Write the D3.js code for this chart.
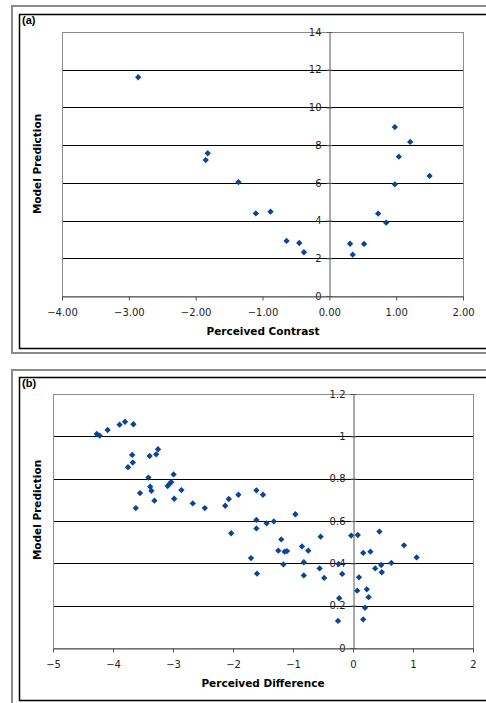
<!DOCTYPE html>
<html>
<head>
<meta charset="utf-8">
<script src="https://cdn.jsdelivr.net/npm/d3@7"></script>
<style>
  body { margin: 0; background: #fff; }
  svg { display: block; }
</style>
</head>
<body>
<svg id="chart" width="486" height="703"></svg>
<script>
// (a) perceived contrast vs model prediction
const contrastX = [-2.86, -1.85, -1.82, -1.36, -1.10, -0.88, -0.64, -0.45, -0.38,
  0.31, 0.35, 0.52, 0.73, 0.85, 0.98, 0.98, 1.04, 1.21, 1.50];
const contrastY = [11.6, 7.21, 7.57, 6.04, 4.38, 4.47, 2.92, 2.81, 2.32,
  2.77, 2.19, 2.76, 4.37, 3.89, 5.92, 8.96, 7.39, 8.17, 6.37];
const contrastXTicks = [-4, -3, -2, -1, 0, 1, 2];
const contrastYTicks = [0, 2, 4, 6, 8, 10, 12, 14];

// (b) perceived difference vs model prediction
const differenceX = [
  -4.27, -4.22, -4.09, -3.89, -3.80, -3.66,
  -3.68, -3.75, -3.67, -3.39, -3.28, -3.25,
  -3.41, -3.38, -3.36, -3.55, -3.62, -3.31,
  -3.09, -3.06, -3.03, -2.99, -2.86, -2.98,
  -2.67, -2.47, -2.13, -2.07, -1.91,
  -1.61, -1.50, -0.96,
  -1.61, -1.44, -1.32, -1.61, -2.03,
  -0.54, -1.195, -1.245, -1.14, -1.10, -0.85, -0.745,
  -1.70, -1.16, -0.82, -1.60, -0.82, -0.556, -0.48,
  -0.03, 0.08, 0.44, 0.85, 1.06,
  0.17, 0.29, -0.24, -0.18, 0.10,
  0.37, 0.47, 0.48, 0.64,
  0.07, 0.23, 0.26, -0.23, 0.20, 0.17, -0.25
];
const differenceY = [
  1.011, 1.003, 1.030, 1.055, 1.069, 1.057,
  0.912, 0.854, 0.876, 0.907, 0.915, 0.939,
  0.805, 0.762, 0.743, 0.732, 0.661, 0.696,
  0.765, 0.775, 0.784, 0.820, 0.746, 0.705,
  0.683, 0.661, 0.672, 0.704, 0.724,
  0.745, 0.724, 0.632,
  0.605, 0.589, 0.598, 0.565, 0.542,
  0.526, 0.513, 0.460, 0.455, 0.458, 0.480, 0.460,
  0.425, 0.395, 0.405, 0.351, 0.343, 0.376, 0.331,
  0.531, 0.534, 0.550, 0.485, 0.428,
  0.449, 0.455, 0.397, 0.350, 0.334,
  0.376, 0.392, 0.358, 0.402,
  0.271, 0.277, 0.240, 0.235, 0.190, 0.135, 0.128
];
const differenceXTicks = [-5, -4, -3, -2, -1, 0, 1, 2];
const differenceYTicks = [0, 0.2, 0.4, 0.6, 0.8, 1, 1.2];

const svg = d3.select('#chart');
const font = '"DejaVu Sans", Verdana, sans-serif';
const markerColor = '#0b4595';

const panels = [
  {
    label: '(a)', xTitle: 'Perceived Contrast',
    xs: contrastX, ys: contrastY, xTicks: contrastXTicks, yTicks: contrastYTicks,
    xFormat: d3.format('.2f'), yFormat: d3.format('d'),
    frameTop: 6, frameBottom: 353, boxTop: 14, boxBottom: 348,
    left: 62, right: 463, top: 32, bottom: 296, titleY: 164
  },
  {
    label: '(b)', xTitle: 'Perceived Difference',
    xs: differenceX, ys: differenceY, xTicks: differenceXTicks, yTicks: differenceYTicks,
    xFormat: d3.format('d'), yFormat: (d) => String(+d.toFixed(1)),
    frameTop: 370, frameBottom: 710, boxTop: 377, boxBottom: 700,
    left: 53, right: 473, top: 394, bottom: 648, titleY: 510
  }
];

const drawPanel = (p) => {
  const g = svg.append('g');

  // outer gray frame and inner black chart box
  g.append('rect')
    .attr('x', 12).attr('y', p.frameTop)
    .attr('width', 500).attr('height', p.frameBottom - p.frameTop)
    .attr('fill', 'none').attr('stroke', '#8a8a8a').attr('stroke-width', 2);
  g.append('rect')
    .attr('x', 19.5).attr('y', p.boxTop + 0.5)
    .attr('width', 500).attr('height', p.boxBottom - p.boxTop)
    .attr('fill', '#fff').attr('stroke', '#000').attr('stroke-width', 1.5);

  const x = d3.scaleLinear()
    .domain(d3.extent(p.xTicks))
    .range([p.left, p.right]);
  const y = d3.scaleLinear()
    .domain(d3.extent(p.yTicks))
    .range([p.bottom, p.top]);

  // gridlines
  g.append('g')
    .selectAll('line')
    .data(p.yTicks.slice(1, -1))
    .join('line')
    .attr('x1', p.left).attr('x2', p.right)
    .attr('y1', (d) => Math.round(y(d)) + 0.5)
    .attr('y2', (d) => Math.round(y(d)) + 0.5)
    .attr('stroke', '#000').attr('stroke-width', 1);

  // plot area border
  g.append('rect')
    .attr('x', p.left + 0.5).attr('y', p.top + 0.5)
    .attr('width', p.right - p.left).attr('height', p.bottom - p.top)
    .attr('fill', 'none').attr('stroke', '#8c8c8c').attr('stroke-width', 1);

  // y axis sits at x = 0
  const x0 = Math.round(x(0)) + 0.5;
  const yAxis = g.append('g')
    .attr('transform', 'translate(' + x0 + ',0)')
    .call(d3.axisLeft(y).tickValues(p.yTicks).tickFormat(p.yFormat)
      .tickSizeInner(3).tickSizeOuter(0).tickPadding(5));
  yAxis.select('.domain').attr('stroke', '#555');
  yAxis.selectAll('.tick line').attr('stroke', '#555').attr('x2', 3).attr('x1', -3);
  yAxis.selectAll('text')
    .attr('fill', '#222').style('font-family', font).style('font-size', '10px');

  // x axis along the bottom
  const xAxis = g.append('g')
    .attr('transform', 'translate(0,' + (Math.round(y(0)) + 0.5) + ')')
    .call(d3.axisBottom(x).tickValues(p.xTicks).tickFormat(p.xFormat)
      .tickSizeInner(4).tickSizeOuter(0).tickPadding(8));
  xAxis.select('.domain').attr('stroke', '#555');
  xAxis.selectAll('.tick line').attr('stroke', '#555');
  xAxis.selectAll('text')
    .attr('fill', '#222').style('font-family', font).style('font-size', '10px');

  // markers: square turned 45 degrees, like the Excel diamond
  const diamond = d3.symbol().type(d3.symbolSquare).size(20);
  g.append('g')
    .selectAll('path')
    .data(p.xs.map((v, i) => [v, p.ys[i]]))
    .join('path')
    .attr('d', diamond)
    .attr('transform', (d) => 'translate(' + x(d[0]) + ',' + y(d[1]) + ') rotate(45)')
    .attr('fill', markerColor);

  // texts
  g.append('text')
    .attr('x', 22).attr('y', p.boxTop + 10)
    .style('font-family', 'Arial, "Liberation Sans", sans-serif')
    .style('font-size', '11px').style('font-weight', 'bold')
    .text(p.label);

  g.append('text')
    .attr('transform', 'translate(41,' + p.titleY + ') rotate(-90)')
    .attr('text-anchor', 'middle')
    .style('font-family', font).style('font-size', '10.5px').style('font-weight', 'bold')
    .text('Model Prediction');

  g.append('text')
    .attr('x', 263).attr('y', p.bottom + 39)
    .attr('text-anchor', 'middle')
    .style('font-family', font).style('font-size', '10.5px').style('font-weight', 'bold')
    .text(p.xTitle);
};

panels.forEach(drawPanel);
</script>
</body>
</html>
